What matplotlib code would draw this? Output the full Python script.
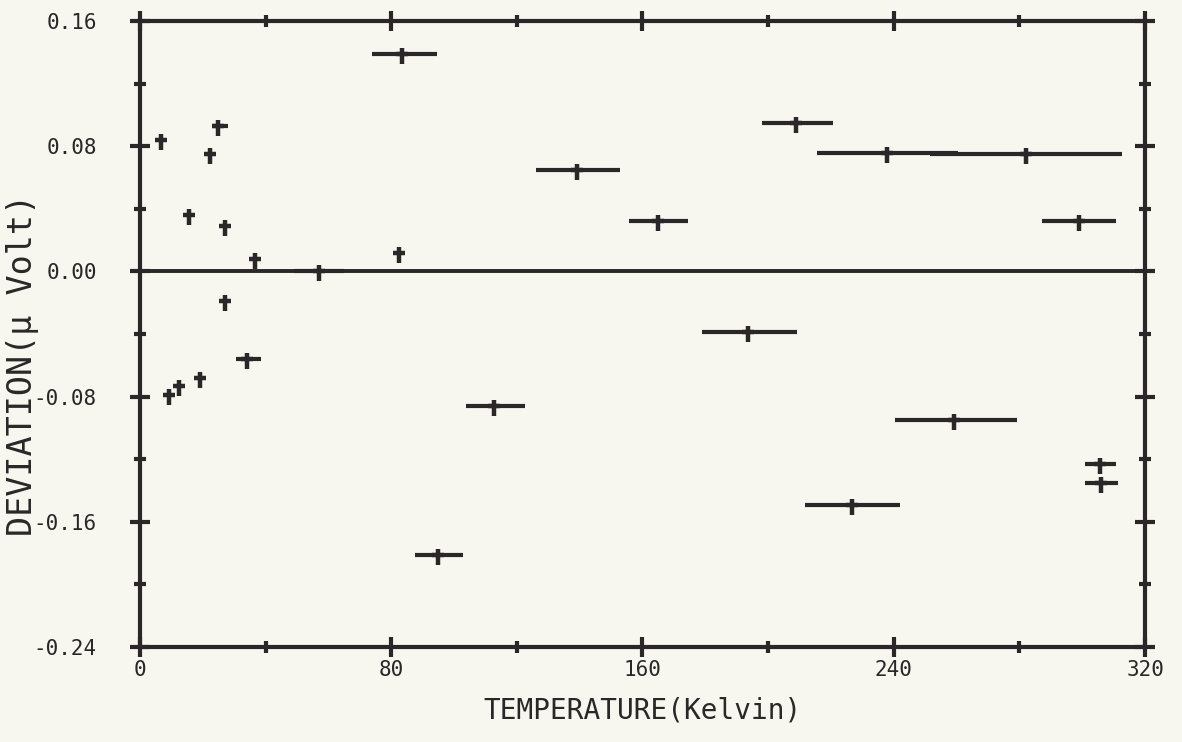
import matplotlib.pyplot as plt
import numpy as np
from matplotlib.path import Path

# deviation of each calibration run, temperature span of the run as a bar
temperature = [6.7, 24.8, 22.3, 15.6, 27.1, 36.6, 27.1, 34.1, 9.2, 12.4, 19.1,
               57.0, 82.5, 83.4, 95.0, 112.7, 139.2, 165.0, 193.6, 209.0,
               238.0, 282.0, 299.0, 259.2, 305.7, 306.0, 226.8]
deviation = [0.084, 0.093, 0.075, 0.036, 0.029, 0.008, -0.019, -0.056, -0.079, -0.073, -0.068,
             0.000, 0.012, 0.139, -0.181, -0.086, 0.065, 0.032, -0.039, 0.095,
             0.076, 0.075, 0.032, -0.095, -0.123, -0.135, -0.149]
temp_low = [6.7, 23.0, 22.3, 15.6, 27.1, 36.6, 27.1, 30.5, 9.2, 12.4, 19.1,
            49.0, 82.5, 74.0, 87.6, 103.8, 126.1, 155.7, 179.0, 198.1,
            215.6, 251.6, 287.3, 240.4, 301.0, 301.0, 211.8]
temp_high = [6.7, 28.0, 22.3, 15.6, 27.1, 36.6, 27.1, 38.5, 9.2, 12.4, 19.1,
             65.0, 82.5, 94.6, 102.9, 122.6, 153.0, 174.5, 209.2, 220.7,
             260.5, 312.7, 310.8, 279.3, 310.8, 311.5, 242.0]

x_ticks = [0, 80, 160, 240, 320]
y_ticks = [-0.24, -0.16, -0.08, 0.00, 0.08, 0.16]

ink = '#2b2627'
paper = '#f7f6ef'

plt.rcParams['font.family'] = ['DejaVu Sans Mono', 'DejaVu Sans']

# plotter-style cross, lower arm longer
cross = Path([(-1, 0), (1, 0), (0, 0.9), (0, -1.5)],
             [Path.MOVETO, Path.LINETO, Path.MOVETO, Path.LINETO])

fig = plt.figure(figsize=(11.82, 7.42), dpi=100, facecolor=paper)
ax = fig.add_axes([0.1184, 0.128, 0.8503, 0.8436])
ax.set_facecolor(paper)

t = np.array(temperature)
xerr = [t - np.array(temp_low), np.array(temp_high) - t]
ax.errorbar(t, deviation, xerr=xerr, fmt='none', ecolor=ink, elinewidth=3, capsize=0)
ax.plot(t, deviation, linestyle='none', marker=cross, markersize=14,
        markeredgewidth=3.2, color=ink)

ax.axhline(0, color=ink, lw=2.8)

ax.set_xlim(0, 320)
ax.set_ylim(-0.24, 0.16)
ax.set_xticks(x_ticks)
ax.set_xticks(np.arange(0, 321, 40), minor=True)
ax.set_yticks(y_ticks)
ax.set_yticks(np.arange(-0.24, 0.161, 0.04), minor=True)
ax.set_xticklabels([str(v) for v in x_ticks])
ax.set_yticklabels([f'{v:.2f}' for v in y_ticks])

for s in ax.spines.values():
    s.set_color(ink)
    s.set_linewidth(3)

ax.tick_params(which='both', direction='inout', top=True, right=True,
               color=ink, width=3, labelcolor=ink)
ax.tick_params(which='major', length=14, labelsize=15)
ax.tick_params(axis='y', which='major', pad=24)
ax.tick_params(axis='x', which='major', pad=2)
ax.tick_params(which='minor', length=8)

ax.set_xlabel('TEMPERATURE(Kelvin)', fontsize=20, color=ink, labelpad=12)
ax.set_ylabel('DEVIATION(\u03bc Volt)', fontsize=24, color=ink)
ax.yaxis.set_label_coords(-0.1, 0.45)

fig.savefig('out.png', dpi=100, facecolor=paper)
